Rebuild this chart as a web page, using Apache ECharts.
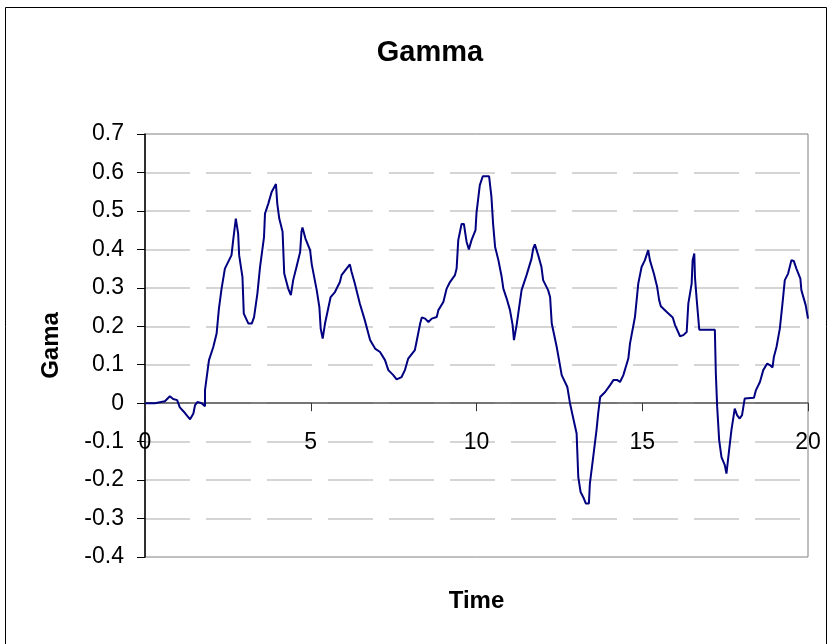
<!DOCTYPE html>
<html>
<head>
<meta charset="utf-8">
<script src="https://cdn.jsdelivr.net/npm/echarts@6/dist/echarts.min.js"></script>
<style>
  html, body { margin: 0; padding: 0; background: #fff; }
  #chart { width: 833px; height: 644px; }
</style>
</head>
<body>
<div id="chart"></div>
<script>
// time (x) and gamma (y)
const time = [
  0, 0.3, 0.35, 0.6, 0.75, 0.85, 0.97, 1.05, 1.2, 1.36, 1.46, 1.51, 1.58, 1.71, 1.81, 1.81,
  1.93, 2.06, 2.16, 2.23, 2.31, 2.41, 2.61, 2.66, 2.74, 2.81, 2.84, 2.94, 2.98, 3.12, 3.22,
  3.29, 3.39, 3.47, 3.59, 3.62, 3.72, 3.82, 3.95, 3.99, 4.05, 4.15, 4.2, 4.32, 4.4, 4.47,
  4.57, 4.68, 4.72, 4.75, 4.84, 4.98, 5.03, 5.18, 5.26, 5.3, 5.36, 5.43, 5.6, 5.73, 5.88,
  5.93, 6.08, 6.18, 6.23, 6.33, 6.48, 6.63, 6.79, 6.94, 7.09, 7.24, 7.34, 7.49, 7.59, 7.74,
  7.84, 7.94, 8.14, 8.19, 8.3, 8.35, 8.45, 8.55, 8.65, 8.8, 8.85, 9.0, 9.1, 9.2, 9.35, 9.4,
  9.45, 9.55, 9.62, 9.7, 9.77, 9.85, 9.97, 10.0, 10.1, 10.19, 10.38, 10.45, 10.5, 10.56,
  10.66, 10.76, 10.81, 10.91, 11.01, 11.09, 11.13, 11.21, 11.36, 11.51, 11.66, 11.71, 11.76,
  11.86, 11.96, 12.01, 12.16, 12.22, 12.27, 12.42, 12.57, 12.74, 12.82, 12.92, 13.02, 13.07,
  13.14, 13.24, 13.3, 13.39, 13.42, 13.52, 13.62, 13.67, 13.73, 13.88, 14.03, 14.13, 14.25,
  14.33, 14.43, 14.58, 14.63, 14.78, 14.88, 14.98, 15.08, 15.18, 15.23, 15.35, 15.45, 15.51,
  15.56, 15.74, 15.92, 15.99, 16.14, 16.24, 16.34, 16.39, 16.49, 16.52, 16.57, 16.59, 16.64,
  16.72, 17.19, 17.22, 17.26, 17.32, 17.39, 17.49, 17.54, 17.62, 17.69, 17.79, 17.86, 17.94,
  18.01, 18.09, 18.37, 18.43, 18.55, 18.65, 18.77, 18.85, 18.93, 18.97, 19.05, 19.15, 19.23,
  19.3, 19.4, 19.5, 19.57, 19.65, 19.77, 19.8, 19.93, 20.0
];
const gamma = [
  0, 0, 0.003, 0.005, 0.018, 0.011, 0.008, -0.011, -0.025, -0.042, -0.027, -0.005, 0.003, 0, -0.008, 0.034,
  0.112, 0.146, 0.181, 0.246, 0.298, 0.35, 0.385, 0.424, 0.48, 0.441, 0.385, 0.328, 0.233, 0.207, 0.207,
  0.224, 0.285, 0.354, 0.432, 0.493, 0.519, 0.549, 0.57, 0.519, 0.48, 0.446, 0.337, 0.298, 0.281, 0.32,
  0.354, 0.393, 0.446, 0.457, 0.428, 0.398, 0.361, 0.294, 0.25, 0.194, 0.168, 0.207, 0.276, 0.289, 0.315,
  0.333, 0.35, 0.361, 0.342, 0.311, 0.259, 0.216, 0.164, 0.142, 0.133, 0.112, 0.086, 0.073, 0.062, 0.068,
  0.086, 0.116, 0.138, 0.159, 0.207, 0.223, 0.22, 0.211, 0.22, 0.224, 0.242, 0.263, 0.298, 0.315, 0.333, 0.35,
  0.424, 0.466, 0.466, 0.42, 0.4, 0.424, 0.45, 0.495, 0.567, 0.59, 0.59, 0.537, 0.467, 0.407,
  0.372, 0.328, 0.298, 0.272, 0.242, 0.203, 0.164, 0.203, 0.294, 0.333, 0.376, 0.402, 0.413,
  0.385, 0.354, 0.32, 0.294, 0.276, 0.207, 0.146, 0.073, 0.042, 0, -0.04, -0.079, -0.192,
  -0.231, -0.248, -0.261, -0.261, -0.209, -0.14, -0.07, -0.027, 0.016, 0.029, 0.047, 0.06, 0.06,
  0.055, 0.073, 0.116, 0.155, 0.224, 0.311, 0.354, 0.372, 0.398, 0.372, 0.337, 0.302, 0.268,
  0.252, 0.237, 0.223, 0.203, 0.174, 0.177, 0.185, 0.259, 0.311, 0.372, 0.389, 0.328, 0.272,
  0.191, 0.191, 0.077, -0.009, -0.096, -0.14, -0.161, -0.183, -0.122, -0.07, -0.014, -0.031, -0.04,
  -0.031, 0.012, 0.014, 0.034, 0.055, 0.086, 0.103, 0.099, 0.093, 0.12, 0.146, 0.194, 0.259,
  0.32, 0.337, 0.372, 0.37, 0.35, 0.324, 0.294, 0.255, 0.22
];

const points = time.map((t, i) => [t, gamma[i]]);
const font = 'Liberation Sans, Arial, sans-serif';

const chart = echarts.init(document.getElementById('chart'));
chart.setOption({
  animation: false,
  backgroundColor: '#fff',
  // outer chart-area frame
  graphic: [{
    type: 'rect',
    shape: { x: 5.5, y: 7.5, width: 821, height: 660 },
    style: { fill: 'none', stroke: '#000', lineWidth: 1 },
    silent: true
  }],
  title: {
    text: 'Gamma',
    left: 425, top: 33, textAlign: 'center',
    textStyle: { fontFamily: font, fontSize: 29, fontWeight: 'bold', color: '#000' }
  },
  grid: {
    left: 145, right: 25, top: 134, bottom: 87,
    containLabel: false, outerBoundsMode: 'none',
    show: true, borderColor: '#808080', borderWidth: 1, backgroundColor: '#fff'
  },
  xAxis: {
    type: 'value', min: 0, max: 20, interval: 5,
    name: 'Time', nameLocation: 'middle', nameGap: 32,
    nameTextStyle: { fontFamily: font, fontSize: 24, fontWeight: 'bold', color: '#000' },
    axisLine: { onZero: true, lineStyle: { color: '#555', width: 1.5 } },
    axisTick: { show: true, length: 8, lineStyle: { color: '#333' } },
    // labels sit just under the zero line, as in the reference
    axisLabel: { margin: -126, fontFamily: font, fontSize: 23, color: '#000' },
    splitLine: { show: false }
  },
  yAxis: {
    type: 'value', min: -0.4, max: 0.7, interval: 0.1,
    name: 'Gama', nameLocation: 'middle', nameGap: 82, nameRotate: 90,
    nameTextStyle: { fontFamily: font, fontSize: 24, fontWeight: 'bold', color: '#000' },
    axisLine: { show: true, onZero: false, lineStyle: { color: '#000', width: 1.5 } },
    axisTick: { show: true, length: 8, lineStyle: { color: '#000' } },
    axisLabel: {
      margin: 21, fontFamily: font, fontSize: 23, color: '#000',
      formatter: v => String(Math.round(v * 10) / 10)
    },
    splitLine: {
      show: true, showMinLine: false, showMaxLine: false,
      lineStyle: { color: '#c8c8c8', width: 1.5, type: [45, 16] }
    }
  },
  series: [{
    type: 'line',
    data: points,
    showSymbol: false,
    lineStyle: { color: '#000080', width: 2 }
  }]
});
</script>
</body>
</html>
